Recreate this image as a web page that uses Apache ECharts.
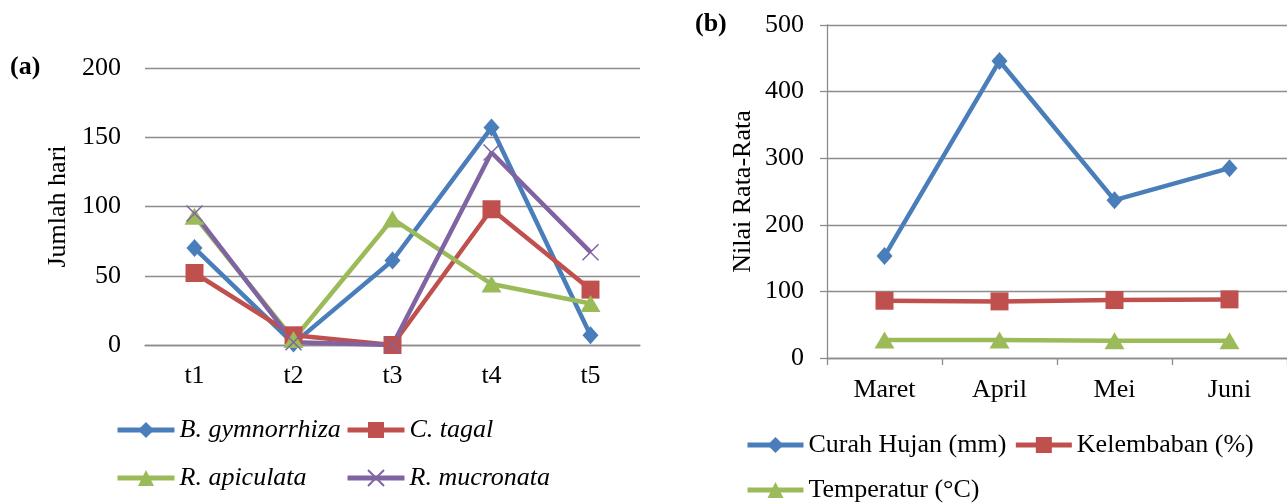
<!DOCTYPE html>
<html>
<head>
<meta charset="utf-8">
<script src="https://cdn.jsdelivr.net/npm/echarts@6/dist/echarts.min.js"></script>
<style>
  html, body { margin: 0; padding: 0; background: #fff; }
  #main { width: 1287px; height: 504px; }
</style>
</head>
<body>
<div id="main"></div>
<script>
// data (a)
var periods = ['t1', 't2', 't3', 't4', 't5'];
var bGymnorrhiza = [70, 1, 61, 157, 7];
var cTagal = [52, 7, 0, 98, 40];
var rApiculata = [93, 4, 91, 44, 30];
var rMucronata = [95, 2, 0, 139, 67];
// data (b)
var months = ['Maret', 'April', 'Mei', 'Juni'];
var curahHujan = [153, 446, 237, 285];
var kelembaban = [86, 85, 87, 88];
var temperatur = [27, 27, 26, 26];

var FONT = '"Liberation Serif", "Times New Roman", serif';
var FS = 26;
var GRID_COLOR = '#8c8c8c';
var BLUE = '#4a7ebb', RED = '#c0504d', GREEN = '#9bbb59', PURPLE = '#8064a2';
var CROSS = 'path://M0,0L10,10M10,0L0,10';

function lineSeries(name, data, color, symbol, size, xi, extra) {
  var s = {
    name: name,
    type: 'line',
    xAxisIndex: xi,
    yAxisIndex: xi,
    data: data,
    symbol: symbol,
    symbolSize: size,
    lineStyle: { color: color, width: 4.5 },
    itemStyle: { color: color },
    emphasis: { disabled: true },
    animation: false
  };
  if (extra) Object.assign(s.itemStyle, extra);
  return s;
}

function legendText(italic) {
  return { fontFamily: FONT, fontSize: FS, fontStyle: italic ? 'italic' : 'normal', color: '#000', lineHeight: 28 };
}

var chart = echarts.init(document.getElementById('main'));

var option = {
  backgroundColor: '#fff',
  textStyle: { fontFamily: FONT, color: '#000' },
  graphic: [
    { type: 'text', left: 10, top: 54, style: { text: '(a)', font: 'bold 26px ' + FONT, fill: '#000' } },
    { type: 'text', left: 695, top: 11, style: { text: '(b)', font: 'bold 26px ' + FONT, fill: '#000' } }
  ],
  grid: [
    { left: 145, right: 647, top: 68, bottom: 159 },
    { left: 827, right: 0, top: 25, bottom: 146 }
  ],
  xAxis: [
    {
      gridIndex: 0, type: 'category', data: periods,
      axisLine: { lineStyle: { color: GRID_COLOR, width: 1.3 } },
      axisTick: { show: false },
      axisLabel: { fontFamily: FONT, fontSize: FS, color: '#000', margin: 18 }
    },
    {
      gridIndex: 1, type: 'category', data: months,
      axisLine: { lineStyle: { color: GRID_COLOR, width: 1.3 } },
      axisTick: { show: true, length: 7, lineStyle: { color: GRID_COLOR, width: 1.3 } },
      axisLabel: { fontFamily: FONT, fontSize: FS, color: '#000', margin: 19 }
    }
  ],
  yAxis: [
    {
      gridIndex: 0, type: 'value', min: 0, max: 200, interval: 50,
      name: 'Jumlah hari', nameLocation: 'middle', nameGap: 74, nameRotate: 90,
      nameTextStyle: { fontFamily: FONT, fontSize: FS, color: '#000' },
      axisLine: { show: false }, axisTick: { show: false },
      axisLabel: { fontFamily: FONT, fontSize: FS, color: '#000', margin: 24 },
      splitLine: { lineStyle: { color: GRID_COLOR, width: 1.3 } }
    },
    {
      gridIndex: 1, type: 'value', min: 0, max: 500, interval: 100,
      name: 'Nilai Rata-Rata', nameLocation: 'middle', nameGap: 71, nameRotate: 90,
      nameTextStyle: { fontFamily: FONT, fontSize: FS, color: '#000' },
      axisLine: { show: true, lineStyle: { color: GRID_COLOR, width: 1.3 } },
      axisTick: { show: true, length: 7, lineStyle: { color: GRID_COLOR, width: 1.3 } },
      axisLabel: { fontFamily: FONT, fontSize: FS, color: '#000', margin: 23 },
      splitLine: { lineStyle: { color: GRID_COLOR, width: 1.3 } }
    }
  ],
  legend: [
    {
      orient: 'vertical', left: 110, top: 411, itemGap: 20,
      itemWidth: 57, itemHeight: 20,
      lineStyle: { width: 5 },
      data: ['B. gymnorrhiza', 'R. apiculata'],
      textStyle: legendText(true)
    },
    {
      orient: 'vertical', left: 340, top: 411, itemGap: 20,
      itemWidth: 57, itemHeight: 20,
      lineStyle: { width: 5 },
      data: ['C. tagal', 'R. mucronata'],
      textStyle: legendText(true)
    },
    {
      orient: 'horizontal', left: 740, top: 426, itemGap: 7,
      itemWidth: 56, itemHeight: 20,
      lineStyle: { width: 5 },
      data: ['Curah Hujan (mm)', 'Kelembaban (%)'],
      textStyle: legendText(false)
    },
    {
      orient: 'horizontal', left: 740, top: 471,
      itemWidth: 56, itemHeight: 20,
      lineStyle: { width: 5 },
      data: ['Temperatur (°C)'],
      textStyle: legendText(false)
    }
  ],
  series: [
    lineSeries('B. gymnorrhiza', bGymnorrhiza, BLUE, 'diamond', [16, 18], 0),
    lineSeries('C. tagal', cTagal, RED, 'rect', 18, 0),
    lineSeries('R. apiculata', rApiculata, GREEN, 'triangle', [20, 17], 0),
    lineSeries('R. mucronata', rMucronata, PURPLE, CROSS, 16, 0, { borderColor: PURPLE, borderWidth: 1.5, color: 'none' }),
    lineSeries('Curah Hujan (mm)', curahHujan, BLUE, 'diamond', [16, 18], 1),
    lineSeries('Kelembaban (%)', kelembaban, RED, 'rect', 18, 1),
    lineSeries('Temperatur (°C)', temperatur, GREEN, 'triangle', [20, 17], 1)
  ]
};

chart.setOption(option);
</script>
</body>
</html>
